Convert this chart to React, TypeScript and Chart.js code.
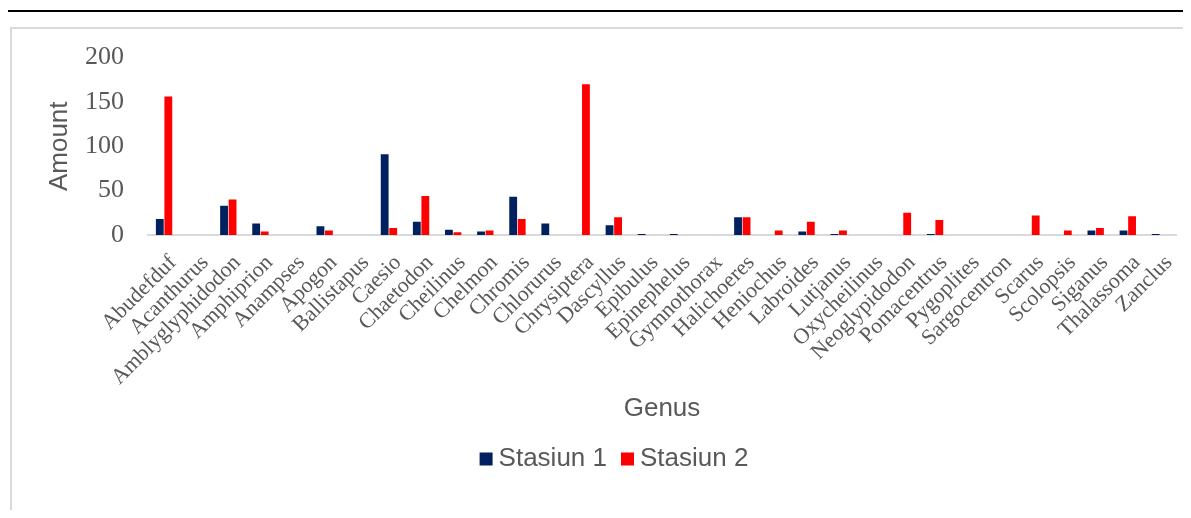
import React, { useEffect, useRef } from "react";
import { Chart, registerables } from "chart.js";

Chart.register(...registerables);

const genus: string[] = [
  "Abudefduf", "Acanthurus", "Amblyglyphidodon", "Amphiprion", "Anampses", "Apogon",
  "Ballistapus", "Caesio", "Chaetodon", "Cheilinus", "Chelmon", "Chromis", "Chlorurus",
  "Chrysiptera", "Dascyllus", "Epibulus", "Epinephelus", "Gymnothorax", "Halichoeres",
  "Heniochus", "Labroides", "Lutjanus", "Oxycheilinus", "Neoglypidodon", "Pomacentrus",
  "Pygoplites", "Sargocentron", "Scarus", "Scolopsis", "Siganus", "Thalassoma", "Zanclus",
];

const stasiun1: number[] = [
  18, 0, 33, 13, 0, 10, 0, 91, 15, 6, 4, 43, 13, 0, 11, 1, 1, 0, 20, 0, 4, 1, 0, 0, 1, 0, 0, 0, 0, 5, 5, 1,
];

const stasiun2: number[] = [
  156, 0, 40, 4, 0, 5, 0, 8, 44, 3, 5, 18, 0, 170, 20, 0, 0, 0, 20, 5, 15, 5, 0, 25, 17, 0, 0, 22, 5, 8, 21, 0,
];

const seriesNames: string[] = ["Stasiun 1", "Stasiun 2"];
const yTicks: number[] = [0, 50, 100, 150, 200];

const SERIF = '"Liberation Serif", "Times New Roman", serif';
const SANS = '"Liberation Sans", Arial, sans-serif';
const TEXT = "#595959";
const BLUE = "#002060";
const RED = "#FF0000";

const legendPlugin = {
  id: "excelLegend",
  afterDraw(chart: any) {
    const ctx = chart.ctx as CanvasRenderingContext2D;
    ctx.save();
    ctx.font = `26px ${SANS}`;
    const box = 13;
    const gap = 6;
    const spacing = 14;
    const items = chart.data.datasets.map((d: any) => ({
      text: d.label as string,
      color: d.backgroundColor as string,
      w: ctx.measureText(d.label).width,
    }));
    const total =
      items.reduce((s: number, it: any) => s + box + gap + it.w, 0) + spacing * (items.length - 1);
    const cx = 602;
    const cy = 430;
    let x = cx - total / 2;
    ctx.textBaseline = "middle";
    ctx.textAlign = "left";
    for (const it of items) {
      ctx.fillStyle = it.color;
      ctx.fillRect(x, cy - box / 2, box, box);
      x += box + gap;
      ctx.fillStyle = TEXT;
      ctx.fillText(it.text, x, cy);
      x += it.w + spacing;
    }
    ctx.restore();
  },
};

export default function App() {
  const ref = useRef<HTMLCanvasElement | null>(null);

  useEffect(() => {
    if (!ref.current) return;
    const chart = new Chart(ref.current, {
      type: "bar",
      data: {
        labels: genus,
        datasets: [
          {
            label: seriesNames[0],
            data: stasiun1,
            backgroundColor: BLUE,
            borderWidth: 0,
            categoryPercentage: 0.53,
            barPercentage: 0.92,
          },
          {
            label: seriesNames[1],
            data: stasiun2,
            backgroundColor: RED,
            borderWidth: 0,
            categoryPercentage: 0.53,
            barPercentage: 0.92,
          },
        ],
      },
      options: {
        responsive: false,
        animation: false,
        layout: { padding: { top: 28.5, left: 32, right: 7, bottom: 74 } },
        plugins: {
          legend: { display: false },
          tooltip: { enabled: false },
        },
        scales: {
          x: {
            grid: { display: false, drawTicks: false },
            border: { display: true, color: "#d9d9d9", width: 2 },
            afterFit: (scale: any) => {
              scale.height = 201;
              scale.paddingLeft = 0;
              scale.paddingRight = 0;
            },
            ticks: {
              autoSkip: false,
              minRotation: 45,
              maxRotation: 45,
              padding: 15,
              labelOffset: 9,
              color: TEXT,
              font: { family: SERIF, size: 22 },
            },
            title: {
              display: true,
              text: "Genus",
              color: TEXT,
              font: { family: SANS, size: 26 },
              padding: { top: 21, bottom: 12 },
            },
          },
          y: {
            min: 0,
            max: 200,
            afterBuildTicks: (scale: any) => {
              scale.ticks = yTicks.map((v) => ({ value: v }));
            },
            afterFit: (scale: any) => {
              scale.width = 104;
              scale.paddingTop = 0;
              scale.paddingBottom = 0;
            },
            grid: { display: false, drawTicks: false },
            border: { display: false },
            ticks: {
              padding: 24,
              color: TEXT,
              font: { family: SERIF, size: 26 },
            },
            title: {
              display: true,
              text: "Amount",
              color: TEXT,
              font: { family: SANS, size: 26 },
              padding: { top: 0, bottom: 10 },
            },
          },
        },
      },
      plugins: [legendPlugin],
    });
    return () => chart.destroy();
  }, []);

  return (
    <div style={{ paddingTop: 2 }}>
      <div style={{ marginLeft: -1, marginRight: -8, borderTop: "2px solid #000" }} />
      <div
        style={{
          marginTop: 15,
          marginLeft: 2,
          marginRight: -8,
          height: 481,
          borderLeft: "2px solid #d9d9d9",
          borderTop: "2px solid #d9d9d9",
        }}
      >
        <canvas ref={ref} width={1171} height={481} style={{ display: "block" }} />
      </div>
    </div>
  );
}
